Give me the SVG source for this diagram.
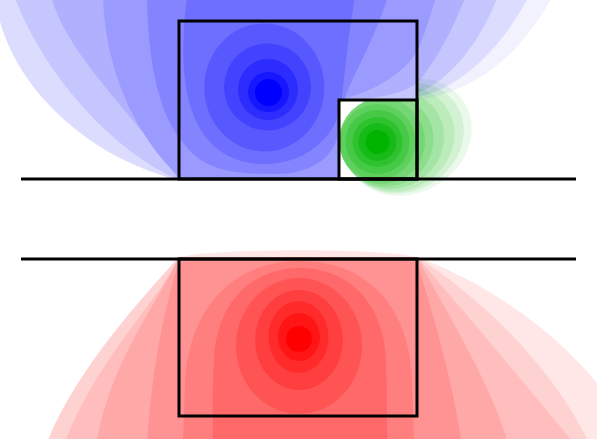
<svg xmlns="http://www.w3.org/2000/svg" width="597" height="439" viewBox="0 0 597 439">
<defs>
<style>
.wall{fill:none;stroke:#000;stroke-width:3}
</style>
<clipPath id="clipBlue"><rect x="0" y="0" width="597" height="179"/></clipPath>
<clipPath id="clipRed"><rect x="0" y="248" width="597" height="191"/></clipPath>
<clipPath id="clipGreen"><path clip-rule="evenodd" d="M0,0H597V439H0Z M179,21H417V100H179Z"/></clipPath>
</defs>
<rect width="597" height="439" fill="#fff"/>

<g id="field-blue" clip-path="url(#clipBlue)">
<path fill="#f2f2ff" d="M -3,8 C 10,80 80,155 179,180 L 418,181 L 418,100 C 470,92 520,60 556,-10 L -3,-10 Z"/>
<path fill="#dcdcff" d="M -3,8 C 10,80 80,155 179,180 L 418,181 L 418,97 C 462,88 505,45 532,-10 L -3,-10 Z"/>
<path fill="#c6c6ff" d="M 12,-10 C 40,70 110,150 179,180 L 418,181 L 418,93 C 450,80 482,42 500,-10 Z"/>
<path fill="#b0b0ff" d="M 50,-10 C 60,50 140,120 179,180 L 339,181 L 339,100 C 380,100 410,92 420,80 C 440,55 455,25 468,-10 Z"/>
<path fill="#9a9aff" d="M 103,-10 C 103,60 130,130 179,177 C 230,178 300,179 339,177 L 339,100 C 375,92 410,70 420,45 C 427,28 432,10 438,-10 Z"/>
<path fill="#8484ff" d="M 147,-10 C 147,70 162,120 185,145 C 205,172 240,174 275,174 C 320,174 338,150 340,125 L 344,100 C 355,70 375,40 390,-10 Z"/>
<path fill="#6e6eff" d="M 188,-10 C 178,60 178,150 250,163 C 300,170 335,140 341,105 C 345,70 349,30 356,-10 Z"/>
<ellipse fill="#5858ff" cx="264.3" cy="87.5" rx="60" ry="64"/>
<ellipse fill="#4242ff" cx="267.5" cy="87" rx="43.5" ry="43.5"/>
<ellipse fill="#2c2cff" cx="268" cy="89.5" rx="30" ry="30.5"/>
<ellipse fill="#1616ff" cx="268.5" cy="92" rx="20.5" ry="20"/>
<ellipse fill="#0000ff" cx="268.5" cy="92.5" rx="13.5" ry="13.5"/>
</g>

<rect x="339" y="100" width="78" height="79" fill="#fff"/>
<g id="field-green" clip-path="url(#clipGreen)" style="mix-blend-mode:multiply">
<ellipse fill="#ebf9eb" cx="408" cy="137" rx="66" ry="56" transform="rotate(-30 408 137)"/>
<ellipse fill="#d3f2d3" cx="404" cy="138" rx="62" ry="53" transform="rotate(-30 404 138)"/>
<ellipse fill="#bcebbc" cx="399" cy="139" rx="57" ry="51" transform="rotate(-30 399 139)"/>
<ellipse fill="#a4e4a4" cx="393" cy="140" rx="52" ry="48" transform="rotate(-30 393 140)"/>
<ellipse fill="#8ddd8d" cx="387" cy="141" rx="47" ry="45" transform="rotate(-30 387 141)"/>
<circle fill="#75d675" cx="382" cy="141" r="43"/>
<circle fill="#5ed05e" cx="377.5" cy="142" r="38"/>
<circle fill="#46c946" cx="377.5" cy="142" r="32"/>
<circle fill="#2fc22f" cx="377.5" cy="142" r="25"/>
<circle fill="#17bb17" cx="377.5" cy="142" r="19"/>
<circle fill="#00b400" cx="377.5" cy="142" r="12"/>
</g>

<g id="field-red" clip-path="url(#clipRed)">
<path fill="#ffe7e7" d="M 179,257 C 145,295 75,370 46,445 L 610,445 L 610,400 C 560,330 480,280 417,257 C 380,248 220,248 179,257 Z"/>
<path fill="#ffd2d2" d="M 179,257 C 145,295 75,370 46,445 L 590,445 C 550,360 470,290 417,257 Z"/>
<path fill="#ffbdbd" d="M 179,257 C 160,300 95,360 64,445 L 575,445 C 535,395 450,295 417,257 Z"/>
<path fill="#ffa8a8" d="M 179,257 C 160,300 110,360 96,445 L 508,445 C 495,390 445,310 417,257 Z"/>
<path fill="#ff9393" d="M 179,262 C 230,257 370,257 417,262 C 435,320 452,380 462,445 L 147,445 C 150,390 160,320 179,262 Z"/>
<path fill="#ff7e7e" d="M 300,261 C 370,261 410,310 412,380 L 414,445 L 183,445 L 185,380 C 190,310 230,261 300,261 Z"/>
<path fill="#ff6969" d="M 300,268 C 350,268 384,305 386,360 C 387,395 387,420 387,445 L 213,445 C 213,420 212,395 214,360 C 216,305 250,268 300,268 Z"/>
<ellipse fill="#ff5454" cx="299" cy="346" rx="63" ry="68"/>
<ellipse fill="#ff3f3f" cx="299" cy="340" rx="44" ry="50"/>
<ellipse fill="#ff2a2a" cx="298.5" cy="337" rx="30" ry="36"/>
<ellipse fill="#ff1515" cx="299" cy="337" rx="21" ry="24"/>
<ellipse fill="#ff0000" cx="299" cy="339" rx="13" ry="13"/>
</g>

<g id="connectors">
<line class="wall" x1="21" y1="179" x2="576" y2="179"/>
<line class="wall" x1="21" y1="259" x2="576" y2="259"/>
</g>
<g id="node-blue"><rect class="wall" x="179" y="21" width="238" height="158"/></g>
<g id="node-green"><rect class="wall" x="339" y="100" width="78" height="79"/></g>
<g id="node-red"><rect class="wall" x="179" y="259" width="238" height="157"/></g>
</svg>
